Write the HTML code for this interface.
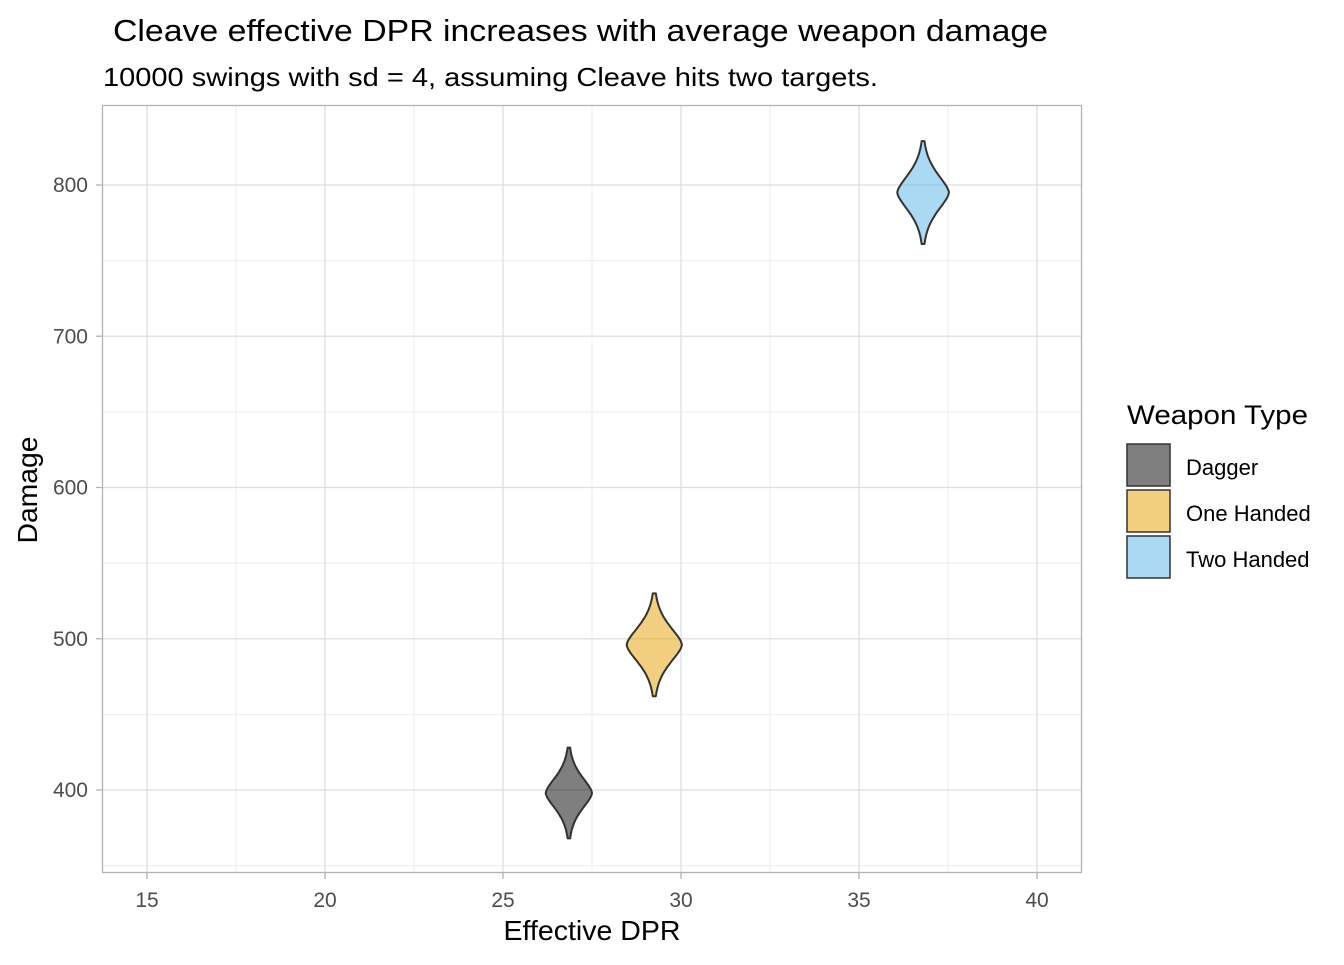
<!DOCTYPE html>
<html><head><meta charset="utf-8"><style>
body{margin:0;background:#fff;}
svg text{font-family:"Liberation Sans",Arial,sans-serif;}
</style></head><body>
<svg id="chart" width="1344" height="960" viewBox="0 0 1344 960" xmlns="http://www.w3.org/2000/svg">
<text x="113" y="41" font-size="31" textLength="935" lengthAdjust="spacingAndGlyphs" fill="#000">Cleave effective DPR increases with average weapon damage</text>
<text x="103" y="86" font-size="26" textLength="775" lengthAdjust="spacingAndGlyphs" fill="#000">10000 swings with sd = 4, assuming Cleave hits two targets.</text>
<g id="grid"></g>
<g id="marks"></g>
<rect x="102.5" y="105.5" width="979" height="767" fill="none" stroke="#b3b3b3" stroke-width="1.3"/>
<g id="ticks"></g>
<text x="592" y="940" font-size="28" textLength="177" lengthAdjust="spacingAndGlyphs" text-anchor="middle">Effective DPR</text>
<text transform="translate(37,490) rotate(-90)" font-size="28" textLength="107" lengthAdjust="spacingAndGlyphs" text-anchor="middle">Damage</text>
<text x="1127" y="424" font-size="27" textLength="181" lengthAdjust="spacingAndGlyphs">Weapon Type</text>
<g id="legend"></g>
</svg>
<script>
const categories=["Dagger","One Handed","Two Handed"];
const dprValues=[26.85,29.25,36.8];
const damageCenters=[398,496,795];
const damageSpread=[30,34,34];
const widthsDpr=[1.3,1.55,1.45];
const fills=["rgba(0,0,0,0.5)","rgba(230,159,0,0.5)","rgba(86,180,233,0.5)"];
const xTicks=[15,20,25,30,35,40];
const yTicks=[400,500,600,700,800];
const NS="http://www.w3.org/2000/svg";
const xs=v=>147+(v-15)*35.6;
const ys=v=>790-(v-400)*1.5125;
const grid=document.getElementById('grid'),ticks=document.getElementById('ticks'),marks=document.getElementById('marks'),legend=document.getElementById('legend');
function line(p,x1,y1,x2,y2,c,w,name){const l=document.createElementNS(NS,'line');l.setAttribute('x1',x1);l.setAttribute('y1',y1);l.setAttribute('x2',x2);l.setAttribute('y2',y2);l.setAttribute('stroke',c);l.setAttribute('stroke-width',w);


p.appendChild(l);}
function txt(p,x,y,s,anchor,size,fill,name){const t=document.createElementNS(NS,'text');t.setAttribute('x',x);t.setAttribute('y',y);t.setAttribute('text-anchor',anchor);t.setAttribute('font-size',size);t.setAttribute('fill',fill);t.textContent=s;


p.appendChild(t);}
for(let i=0;i<xTicks.length-1;i++){const m=(xTicks[i]+xTicks[i+1])/2;line(grid,xs(m),106,xs(m),872,'#ededed',1,'x-minor-gridline');}
for(const v of [350,450,550,650,750]){line(grid,103,ys(v),1081,ys(v),'#ededed',1,'y-minor-gridline');}
xTicks.forEach(v=>{line(grid,xs(v),106,xs(v),872,'#dedede',1.3,'x-gridline');line(ticks,xs(v),873,xs(v),879,'#b3b3b3',1.3,'x-tick');txt(ticks,xs(v),907,v,'middle',21,'#4d4d4d','x-tick-label');});
yTicks.forEach(v=>{line(grid,103,ys(v),1081,ys(v),'#dedede',1.3,'y-gridline');line(ticks,96,ys(v),102,ys(v),'#b3b3b3',1.3,'y-tick');txt(ticks,88,ys(v)+7,v,'end',21,'#4d4d4d','y-tick-label');});
categories.forEach((c,i)=>{
  const cx=xs(dprValues[i]),hw=widthsDpr[i]*35.6/2,s=damageSpread[i],sig=s/2.6;
  const right=[],left=[];
  for(let k=0;k<=60;k++){const d=damageCenters[i]-s+2*s*k/60;const u=Math.abs(d-damageCenters[i])/sig;const w=Math.max(hw*Math.exp(-Math.pow(u,1.6)/1.6),1);right.push([cx+w,ys(d)]);left.unshift([cx-w,ys(d)]);}
  const pts=right.concat(left).map(p=>p[0].toFixed(1)+','+p[1].toFixed(1)).join(' ');
  const pg=document.createElementNS(NS,'polygon');pg.setAttribute('points',pts);pg.setAttribute('fill',fills[i]);pg.setAttribute('stroke','#333');pg.setAttribute('stroke-width',2);pg.setAttribute('stroke-linejoin','round');
  
  
  marks.appendChild(pg);
  const r=document.createElementNS(NS,'rect');r.setAttribute('x',1127);r.setAttribute('y',444+i*46);r.setAttribute('width',43);r.setAttribute('height',42);r.setAttribute('fill',fills[i]);r.setAttribute('stroke','#333');r.setAttribute('stroke-width',1.5);
  
  
  legend.appendChild(r);
  txt(legend,1186,475+i*46,c,'start',22,'#000','legend-label');
});
</script>
</body></html>
